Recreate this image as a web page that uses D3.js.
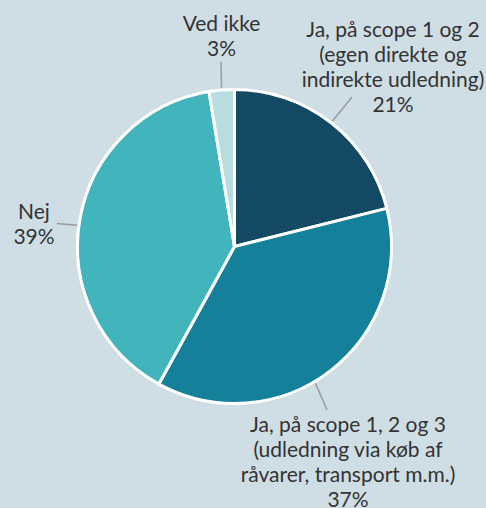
<!DOCTYPE html>
<html>
<head>
<meta charset="utf-8">
<script src="https://cdn.jsdelivr.net/npm/d3@7"></script>
<style>
  html, body { margin: 0; padding: 0; background: #cfdde4; }
  svg { display: block; }
  text { font-family: Lato, "Open Sans", sans-serif; }
</style>
</head>
<body>
<div id="chart"></div>
<script>
// Data
const categories = ["Ja, på scope 1 og 2", "Ja, på scope 1, 2 og 3", "Nej", "Ved ikke"];
const values = [21.1, 36.9, 39.4, 2.6];
const valueLabels = ["21%", "37%", "39%", "3%"];
const labelLines = [
  ["Ja, på scope 1 og 2", "(egen direkte og", "indirekte udledning)"],
  ["Ja, på scope 1, 2 og 3", "(udledning via køb af", "råvarer, transport m.m.)"],
  ["Nej"],
  ["Ved ikke"]
];
const colors = ["#134962", "#15809a", "#42b5bc", "#b8dde1"];

// Label layout (pixel positions of the label blocks and connector ends)
const labelLayout = [
  { x: 393, y: 37, endX: 352, endY: 97, nudge: 0 },
  { x: 348, y: 432, endX: 327, endY: 410, nudge: 7 },
  { x: 34, y: 219, endX: 57, endY: 223.5, nudge: -2 },
  { x: 221.5, y: 30.5, endX: 221, endY: 62, nudge: 0 }
];

const width = 486, height = 508;
const cx = 234.5, cy = 246.5, radius = 157;
const lineHeight = 25;

const svg = d3.select("#chart").append("svg")
  .attr("width", width)
  .attr("height", height);

const pie = d3.pie().sort(null).value(d => d);
const arcs = pie(values);

const arc = d3.arc().innerRadius(0).outerRadius(radius);

const g = svg.append("g").attr("transform", `translate(${cx},${cy})`);

g.selectAll("path.slice")
  .data(arcs)
  .enter()
  .append("path")
  .attr("class", "slice")
  .attr("d", arc)
  .attr("fill", (d, i) => colors[i])
  .attr("stroke", "#fff")
  .attr("stroke-width", 3)
  .attr("stroke-linejoin", "round");

// Connectors from the pie edge to the labels
svg.selectAll("line.connector")
  .data(arcs)
  .enter()
  .append("line")
  .attr("class", "connector")
  .attr("x1", (d, i) => {
    const a = (d.startAngle + d.endAngle) / 2 + labelLayout[i].nudge * Math.PI / 180;
    return cx + Math.sin(a) * (radius + 2);
  })
  .attr("y1", (d, i) => {
    const a = (d.startAngle + d.endAngle) / 2 + labelLayout[i].nudge * Math.PI / 180;
    return cy - Math.cos(a) * (radius + 2);
  })
  .attr("x2", (d, i) => labelLayout[i].endX)
  .attr("y2", (d, i) => labelLayout[i].endY)
  .attr("stroke", "#9a9a9a")
  .attr("stroke-width", 1.5);

// Labels
const labels = svg.selectAll("text.label")
  .data(categories)
  .enter()
  .append("text")
  .attr("class", "label")
  .attr("text-anchor", "middle")
  .style("font-size", "21px")
  .style("fill", "#333");

labels.each(function(c, i) {
  const t = d3.select(this);
  const lines = labelLines[i].concat([valueLabels[i]]);
  lines.forEach((ln, j) => {
    t.append("tspan")
      .attr("x", labelLayout[i].x)
      .attr("y", labelLayout[i].y + j * lineHeight)
      .text(ln);
  });
});
</script>
</body>
</html>
